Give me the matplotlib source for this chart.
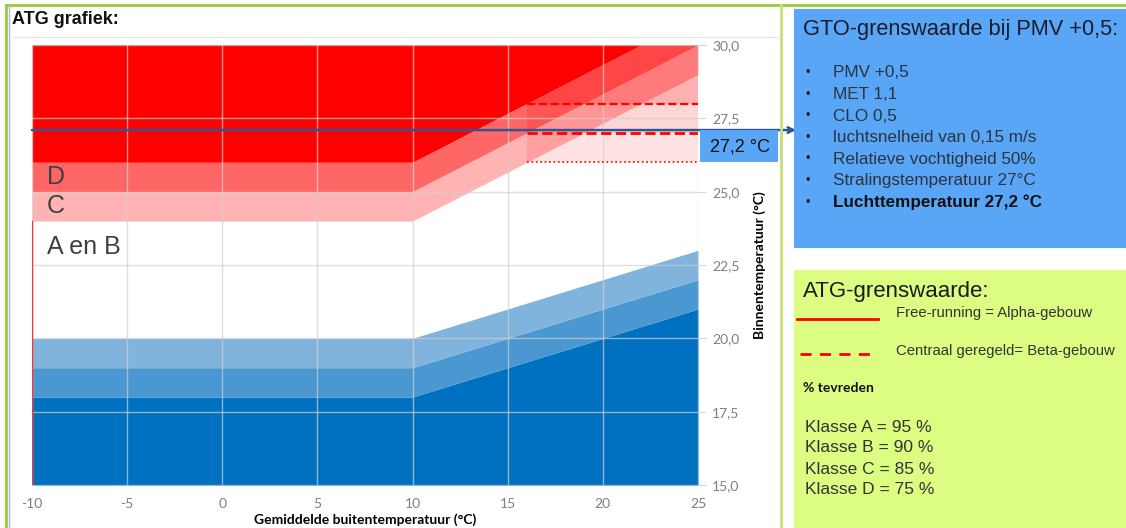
import matplotlib.pyplot as plt
from matplotlib.patches import Rectangle
from matplotlib.lines import Line2D
from matplotlib.ticker import FuncFormatter

plt.rcParams["axes.unicode_minus"] = False

# Data: outdoor temperature breakpoints and band limits (indoor temperature)
x_pts = [-10, 10, 25]

# upper limits (Alpha / free-running)
red_top = [26, 26, 31]     # above: outside class D
red_d = [25, 25, 30]       # class D band lower edge
red_c = [24, 24, 29]       # class C band lower edge

# lower limits
blue_light = [20, 20, 23]
blue_mid = [19, 19, 22]
blue_dark = [18, 18, 21]

# Beta (central regulated) limits
beta_x = [16, 25]
beta_levels = [26, 27, 28]
beta_styles = [":", "--", "--"]
beta_widths = [1.2, 2.0, 1.6]
beta_alpha = [0.11, 0.16, 0.31]

y_ticks = [15.0, 17.5, 20.0, 22.5, 25.0, 27.5, 30.0]
x_ticks = [-10, -5, 0, 5, 10, 15, 20, 25]

gto_value = 27.1
gto_label = "27,2 \u00b0C"

gto_items = ["PMV +0,5", "MET 1,1", "CLO 0,5", "luchtsnelheid van 0,15 m/s",
             "Relatieve vochtigheid 50%", "Stralingstemperatuur 27\u00b0C",
             "Luchttemperatuur 27,2 \u00b0C"]
klassen = ["Klasse A = 95 %", "Klasse B = 90 %", "Klasse C = 85 %", "Klasse D = 75 %"]

W, H = 1126, 528
fig = plt.figure(figsize=(W / 100, H / 100), dpi=100)
fig.patch.set_facecolor("white")


def fx(px):
    return px / W


def fy(py):
    return 1 - py / H


# panel frames
fig.add_artist(Line2D([fx(6), fx(1126)], [fy(5), fy(5)], color="#9BCB3B", lw=2))
fig.add_artist(Line2D([fx(6), fx(6)], [fy(5), 0], color="#9BCB3B", lw=2))
fig.add_artist(Line2D([fx(9), fx(9)], [fy(6), 0], color="#A8B8E8", lw=1))
fig.add_artist(Line2D([fx(781), fx(781)], [fy(5), 0], color="#C5E07A", lw=2))
fig.add_artist(Line2D([fx(13), fx(780)], [fy(37), fy(37)], color="#e6e6e6", lw=1))
fig.text(fx(12), fy(20), "ATG grafiek:", fontsize=13, fontweight="bold",
         family="Liberation Sans", va="center", ha="left", color="#111111")

# right panels
fig.add_artist(Rectangle((fx(794), fy(248)), fx(332), 239 / H,
                         facecolor="#5AA6F6", edgecolor="none"))
fig.add_artist(Rectangle((fx(794), 0), fx(332), 258 / H,
                         facecolor="#DDFD82", edgecolor="none"))

# chart
ax = fig.add_axes([fx(32), fy(485), fx(666), 440 / H])
ax.fill_between(x_pts, red_top, 31, color="#FF0000", lw=0)
ax.fill_between(x_pts, red_d, red_top, color="#FF6666", lw=0)
ax.fill_between(x_pts, red_c, red_d, color="#FFB3B3", lw=0)
ax.fill_between(x_pts, 15, blue_dark, color="#0070C0", lw=0)
ax.fill_between(x_pts, blue_dark, blue_mid, color="#4A97D1", lw=0)
ax.fill_between(x_pts, blue_mid, blue_light, color="#80B4DD", lw=0)

bounds = beta_levels + [30]
for i in range(3):
    ax.fill_between(beta_x, bounds[i], bounds[i + 1], color="#FF0000",
                    alpha=beta_alpha[i], lw=0)
for lev, ls, lw in zip(beta_levels, beta_styles, beta_widths):
    ax.plot(beta_x, [lev, lev], color="#FF0000", ls=ls, lw=lw, zorder=5)

ax.plot([-10, -10], [15, red_c[0]], color="#FF3030", lw=1, zorder=4)

ax.set_xlim(-10, 25)
ax.set_ylim(15, 30)
ax.set_xticks(x_ticks)
ax.set_yticks(y_ticks)
ax.grid(True, color="#d0d0d0", lw=1, alpha=0.7, zorder=3)
ax.set_axisbelow(False)
for s in ax.spines.values():
    s.set_visible(False)

ax.yaxis.tick_right()
ax.yaxis.set_label_position("right")
ax.yaxis.set_major_formatter(FuncFormatter(lambda v, p: f"{v:.1f}".replace(".", ",")))
ax.tick_params(axis="y", length=6, color="#d9d9d9", labelcolor="#7f7f7f",
               labelsize=10, pad=4)
ax.tick_params(axis="x", length=0, labelcolor="#7f7f7f", labelsize=10, pad=9)
for lab in ax.get_xticklabels() + ax.get_yticklabels():
    lab.set_family("Lato")
ax.set_xlabel("Gemiddelde buitentemperatuur (\u00b0C)", fontsize=10,
              fontweight="bold", family="Lato", labelpad=3)
ax.set_ylabel("Binnentemperatuur (\u00b0C)", fontsize=10, fontweight="bold",
              family="Lato", labelpad=10, rotation=90)

ax.text(-9.2, 25.5, "D", fontsize=18, color="#404040", va="center",
        family="Liberation Sans")
ax.text(-9.2, 24.5, "C", fontsize=18, color="#404040", va="center",
        family="Liberation Sans")
ax.text(-9.2, 23.1, "A en B", fontsize=18, color="#404040", va="center",
        family="Liberation Sans")

# GTO marker box and arrow
fig.add_artist(Rectangle((fx(700), fy(162)), fx(78), 32 / H,
                         facecolor="#5AA6F6", edgecolor="none"))
fig.text(fx(740), fy(147), gto_label, fontsize=13, ha="center", va="center",
         family="Liberation Sans", color="#111111")
ax.annotate("", xy=(fx(796), gto_value), xycoords=("figure fraction", "data"),
            xytext=(-10, gto_value), textcoords="data",
            arrowprops=dict(arrowstyle="->", color="#2F5597", lw=1.8,
                            shrinkA=0, shrinkB=0),
            annotation_clip=False, zorder=6)

# GTO panel text
fig.text(fx(803), fy(30), "GTO-grenswaarde bij PMV +0,5:", fontsize=15.7,
         family="Liberation Sans", va="center", color="#1b1b2b")
for i, item in enumerate(gto_items):
    yy = fy(73 + i * 21.6)
    bold = i == len(gto_items) - 1
    fig.text(fx(805), yy, "\u2022", fontsize=9, va="center", color="#1b1b2b",
             family="Liberation Sans")
    fig.text(fx(833), yy, item, fontsize=12.3, va="center",
             family="Liberation Sans",
             fontweight="bold" if bold else "normal",
             color="#111111" if bold else "#2a3340")

# ATG panel text
fig.text(fx(803), fy(292), "ATG-grenswaarde:", fontsize=16,
         family="Liberation Sans", va="center", color="#1b1b1b")
fig.add_artist(Line2D([fx(797), fx(878)], [fy(319), fy(319)], color="#FF0000", lw=2))
fig.add_artist(Line2D([fx(800), fx(876)], [fy(354), fy(354)], color="#FF0000", lw=2,
                      ls=(0, (4, 3))))
fig.text(fx(896), fy(313), "Free-running = Alpha-gebouw", fontsize=10.7,
         family="Liberation Sans", va="center", color="#333333")
fig.text(fx(896), fy(351), "Centraal geregeld= Beta-gebouw", fontsize=10.7,
         family="Liberation Sans", va="center", color="#333333")
fig.text(fx(803), fy(388), "% tevreden", fontsize=10, fontweight="bold",
         family="Lato", va="center", color="#111111")
for i, k in enumerate(klassen):
    fig.text(fx(805), fy(427 + i * 21), k, fontsize=12.5,
             family="Liberation Sans", va="center", color="#333333")

fig.savefig("out.png", dpi=100)
